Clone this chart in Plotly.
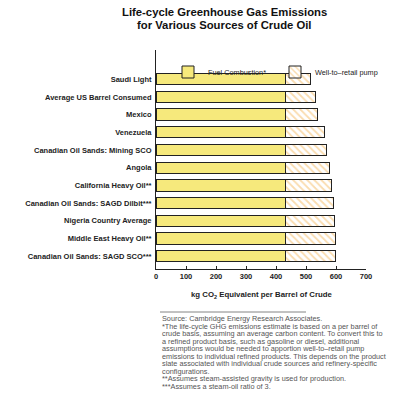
import plotly.graph_objects as go

categories = [
    "Saudi Light",
    "Average US Barrel Consumed",
    "Mexico",
    "Venezuela",
    "Canadian Oil Sands: Mining SCO",
    "Angola",
    "California Heavy Oil**",
    "Canadian Oil Sands: SAGD Dilbit***",
    "Nigeria Country Average",
    "Middle East Heavy Oil**",
    "Canadian Oil Sands: SAGD SCO***",
]
fuel_combustion = [433, 433, 433, 433, 433, 433, 433, 433, 433, 433, 433]
well_to_retail = [82, 99, 104, 129, 134, 144, 153, 158, 161, 164, 165]
x_ticks = [0, 100, 200, 300, 400, 500, 600, 700]

title_lines = ["Life-cycle Greenhouse Gas Emissions", "for Various Sources of Crude Oil"]
footnote_lines = [
    "Source: Cambridge Energy Research Associates.",
    "*The life-cycle GHG emissions estimate is based on a per barrel of",
    "crude basis, assuming an average carbon content. To convert this to",
    "a refined product basis, such as gasoline or diesel, additional",
    "assumptions would be needed to apportion well-to\u2013retail pump",
    "emissions to individual refined products. This depends on the product",
    "slate associated with individual crude sources and refinery-specific",
    "configurations.",
    "**Assumes steam-assisted gravity is used for production.",
    "***Assumes a steam-oil ratio of 3.",
]

FONT = "Liberation Sans, Arial, sans-serif"
W, H = 400, 394
L, R, T, B = 156, 34, 50, 125

fig = go.Figure()
fig.add_trace(go.Bar(
    y=categories, x=fuel_combustion, orientation="h", name="Fuel Combustion*",
    marker=dict(color="#F6E97C", line=dict(color="#222222", width=1)),
    width=0.64,
))
fig.add_trace(go.Bar(
    y=categories, x=well_to_retail, orientation="h", name="Well-to\u2013retail pump",
    marker=dict(color="white", line=dict(color="#222222", width=1),
                pattern=dict(shape="\\", fgcolor="#F5B95E", bgcolor="white", size=5, solidity=0.35)),
    width=0.64,
))

def px_x(p):
    return (p - L) / (W - L - R)

def px_y(p):
    return 1 - (p - T) / (H - T - B)

annotations = []
for i, line in enumerate(title_lines):
    annotations.append(dict(
        text="<b>%s</b>" % line, xref="paper", yref="paper",
        x=px_x(224), y=px_y(12.5 + 12.5 * i), xanchor="center", yanchor="middle",
        showarrow=False, font=dict(family=FONT, size=11.3, color="#111111"),
    ))
annotations.append(dict(
    text="<b>kg CO<sub>2</sub> Equivalent per Barrel of Crude</b>", xref="paper", yref="paper",
    x=0.5, y=px_y(295), xanchor="center", yanchor="middle", showarrow=False,
    font=dict(family=FONT, size=7.8, color="#222222"),
))
for i, line in enumerate(footnote_lines):
    annotations.append(dict(
        text=line, xref="paper", yref="paper",
        x=px_x(160), y=px_y(318.5 + 7.55 * i), xanchor="left", yanchor="middle", align="left",
        showarrow=False, font=dict(family=FONT, size=7.3, color="#555555"),
    ))

fig.update_layout(
    width=W, height=H,
    margin=dict(l=L, r=R, t=T, b=B),
    barmode="stack",
    paper_bgcolor="white", plot_bgcolor="white",
    font=dict(family=FONT, color="#222222"),
    showlegend=True,
    legend=dict(orientation="h", x=px_x(168), y=px_y(72), xanchor="left", yanchor="middle",
                font=dict(family=FONT, size=7.3, color="#222222"), traceorder="normal",
                bgcolor="rgba(0,0,0,0)", itemwidth=30, entrywidth=62, entrywidthmode="pixels"),
    annotations=annotations,
    shapes=[dict(type="line", xref="paper", yref="paper",
                 x0=px_x(160), x1=px_x(306), y0=px_y(312), y1=px_y(312),
                 line=dict(color="#666666", width=0.8))],
)
fig.update_xaxes(
    range=[0, 700], tickvals=x_ticks, ticks="inside", ticklen=3, tickcolor="#222222",
    showline=True, linecolor="#222222", linewidth=1, showgrid=False, zeroline=False,
    tickfont=dict(family=FONT, size=7.5, color="#222222", weight="bold"),
)
fig.update_yaxes(
    type="category", categoryorder="array", categoryarray=categories,
    range=[10.72, -1.65], showline=True, linecolor="#222222", linewidth=1,
    showgrid=False, ticks="", ticklabelstandoff=2,
    tickfont=dict(family=FONT, size=7.5, color="#222222", weight="bold"),
)
fig.write_html("out.html", config={"displayModeBar": False},
               post_script="document.body.style.margin='0';document.body.style.overflow='hidden';")
